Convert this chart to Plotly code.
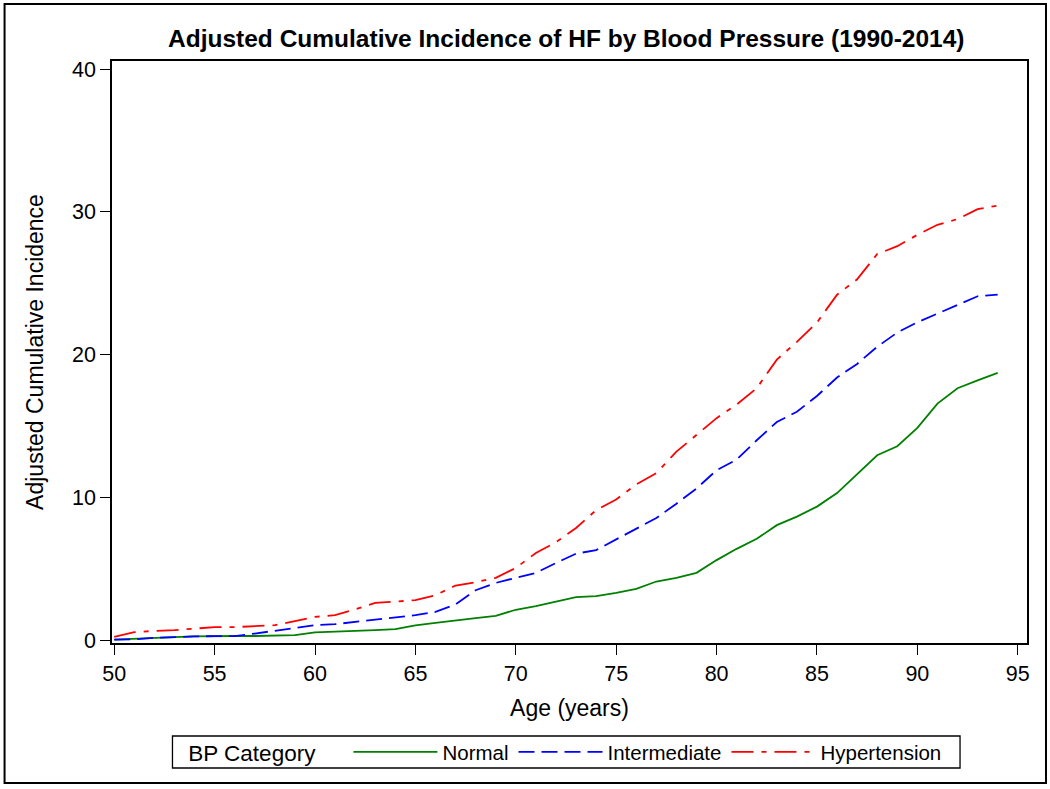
import plotly.graph_objects as go

ages = list(range(50, 95))

normal = [0.03, 0.10, 0.12, 0.20, 0.25, 0.28, 0.28, 0.28, 0.30, 0.34,
          0.53, 0.57, 0.62, 0.69, 0.76, 1.02, 1.20, 1.34, 1.53, 1.69,
          2.12, 2.37, 2.67, 3.00, 3.07, 3.30, 3.59, 4.10, 4.35, 4.71,
          5.60, 6.39, 7.09, 8.05, 8.65, 9.35, 10.30, 11.60, 12.95, 13.58,
          14.87, 16.57, 17.65, 18.20, 18.72]

intermediate = [0.03, 0.05, 0.15, 0.22, 0.25, 0.27, 0.27, 0.45, 0.66, 0.85,
                1.04, 1.11, 1.27, 1.43, 1.62, 1.74, 1.97, 2.49, 3.49, 4.00,
                4.36, 4.70, 5.40, 6.05, 6.30, 7.05, 7.85, 8.55, 9.55, 10.62,
                11.90, 12.65, 14.00, 15.28, 16.00, 17.10, 18.40, 19.35, 20.55, 21.55,
                22.27, 22.88, 23.44, 24.09, 24.21]

hypertension = [0.22, 0.55, 0.64, 0.69, 0.80, 0.90, 0.90, 0.97, 1.04, 1.32,
                1.62, 1.74, 2.14, 2.60, 2.67, 2.79, 3.14, 3.82, 4.05, 4.36,
                5.05, 6.10, 6.85, 7.85, 9.10, 9.85, 10.90, 11.70, 13.20, 14.40,
                15.55, 16.50, 17.65, 19.65, 20.90, 22.25, 24.20, 25.28, 27.05, 27.60,
                28.40, 29.10, 29.50, 30.20, 30.45]

series_names = ["Normal", "Intermediate", "Hypertension"]
x_ticks = [50, 55, 60, 65, 70, 75, 80, 85, 90, 95]
y_ticks = [0, 10, 20, 30, 40]

FONT = "Liberation Sans, Arial, sans-serif"

# plot-area geometry in pixels (for converting frame/legend box to paper coords)
L, R, T, B = 111.5, 1027.0, 61.0, 643.0
PW, PH = R - L, B - T

def px(x):
    return (x - L) / PW

def py(y):
    return (B - y) / PH

fig = go.Figure()
fig.add_trace(go.Scatter(x=ages, y=normal, mode="lines", name=series_names[0],
                         line=dict(color="#008000", width=1.8, dash="solid")))
fig.add_trace(go.Scatter(x=ages, y=intermediate, mode="lines", name=series_names[1],
                         line=dict(color="#0000FF", width=1.8, dash="16px,7px")))
fig.add_trace(go.Scatter(x=ages, y=hypertension, mode="lines", name=series_names[2],
                         line=dict(color="#FF0000", width=1.8, dash="22px,8px,5px,8px")))

fig.update_layout(
    width=1050, height=789,
    paper_bgcolor="white", plot_bgcolor="white",
    margin=dict(l=L, r=1050 - R, t=T, b=789 - B, autoexpand=False),
    font=dict(family=FONT, color="black", size=20),
    title=dict(text="<b>Adjusted Cumulative Incidence of HF by Blood Pressure (1990-2014)</b>",
               x=px(566), xref="paper", xanchor="center", y=1 - 38 / 789, yanchor="middle",
               font=dict(family=FONT, size=24.5, color="black")),
    xaxis=dict(range=[49.89, 95.46], tickvals=x_ticks, ticks="outside", ticklen=10,
               tickwidth=1.3, tickcolor="black", showgrid=False, zeroline=False,
               showline=True, linecolor="black", linewidth=1.5, mirror=True,
               tickfont=dict(size=21.5),
               title=dict(text="Age (years)", font=dict(size=23), standoff=15)),
    yaxis=dict(range=[-0.21, 40.58], tickvals=y_ticks, ticks="outside", ticklen=10,
               tickwidth=1.3, tickcolor="black", showgrid=False, zeroline=False,
               showline=True, linecolor="black", linewidth=1.5, mirror=True,
               tickfont=dict(size=21.5),
               title=dict(text="Adjusted Cumulative Incidence", font=dict(size=23), standoff=22)),
    legend=dict(orientation="h", x=px(566), xanchor="center", y=py(732), yanchor="top",
                title=dict(text="BP Category    ", side="left", font=dict(size=22.5)),
                borderwidth=0, bgcolor="rgba(0,0,0,0)",
                font=dict(size=20.5), itemwidth=84, tracegroupgap=0),
    shapes=[
        dict(type="rect", xref="paper", yref="paper",
             x0=px(4), x1=px(1046), y0=py(783), y1=py(4),
             line=dict(color="black", width=2), fillcolor="rgba(0,0,0,0)", layer="below"),
        dict(type="rect", xref="paper", yref="paper",
             x0=px(172), x1=px(960), y0=py(768), y1=py(736),
             line=dict(color="black", width=1.3), fillcolor="rgba(0,0,0,0)", layer="below"),
    ],
)

fig.write_html("out.html", config={"displayModeBar": False},
               post_script="document.body.style.margin='0px';document.body.style.overflow='hidden';")
